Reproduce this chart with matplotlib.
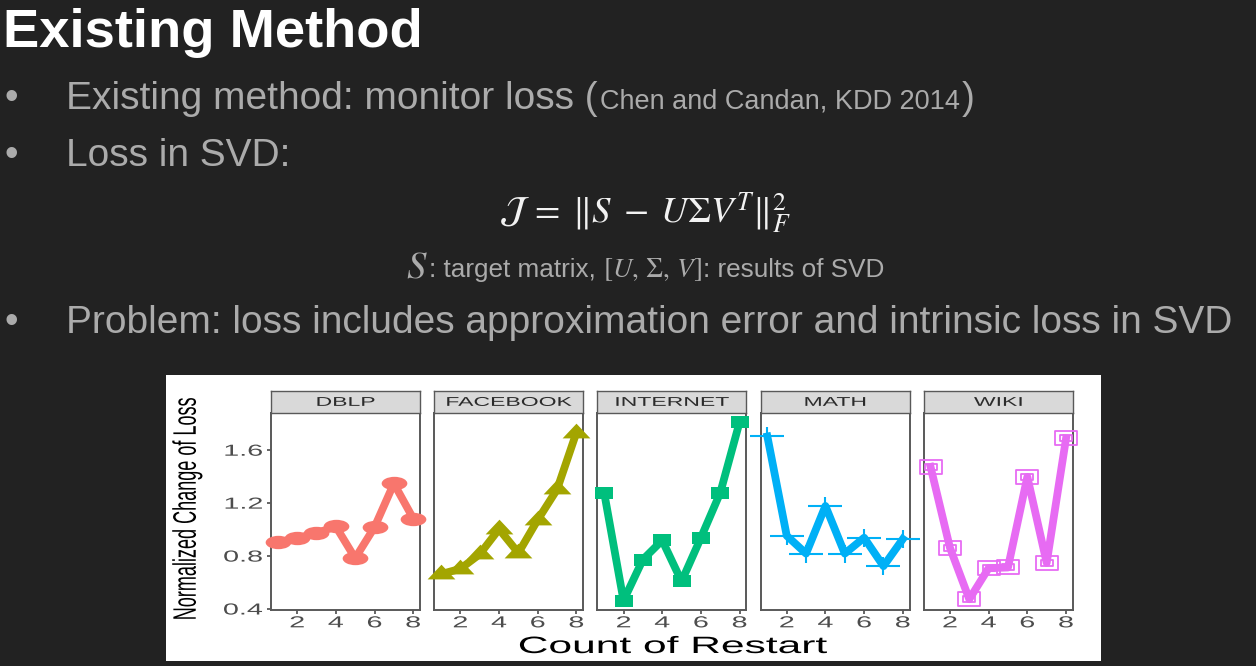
import matplotlib
matplotlib.use("Agg")
import matplotlib.pyplot as plt
import numpy as np
from matplotlib.path import Path
from matplotlib.patches import Rectangle
from matplotlib.patheffects import AbstractPathEffect
from matplotlib.transforms import Affine2D

plt.rcParams['font.family'] = ['Liberation Sans', 'DejaVu Sans']
plt.rcParams['mathtext.fontset'] = 'stix'

# data
restarts = [1, 2, 3, 4, 5, 6, 7, 8]
datasets = ["DBLP", "FACEBOOK", "INTERNET", "MATH", "WIKI"]
dblp = [0.90, 0.93, 0.97, 1.02, 0.78, 1.015, 1.345, 1.08]
facebook = [0.66, 0.70, 0.81, 1.00, 0.82, 1.07, 1.30, 1.73]
internet = [1.275, 0.46, 0.77, 0.915, 0.605, 0.935, 1.275, 1.81]
math_ = [1.70, 0.95, 0.815, 1.175, 0.815, 0.935, 0.72, 0.925]
wiki = [1.47, 0.86, 0.47, 0.705, 0.71, 1.395, 0.745, 1.685]
series = [dblp, facebook, internet, math_, wiki]
colors = ['#F8766D', '#A3A500', '#00BF7D', '#00B0F6', '#E76BF3']
xticks = [2, 4, 6, 8]
yticks = [0.4, 0.8, 1.2, 1.6]

W, H = 1256, 666
BG = '#222222'
GREY_TXT = '#ABABAB'
STRETCH = 1.8   # the chart picture is stretched sideways in the slide


class HStretch(AbstractPathEffect):
    """draw text stretched horizontally (display space)"""
    def __init__(self, sx, anchor='center'):
        super().__init__()
        self.sx = sx
        self.anchor = anchor

    def draw_path(self, renderer, gc, tpath, affine, rgbFace=None):
        ext = tpath.get_extents(affine)
        if self.anchor == 'right':
            x0 = ext.x1
        elif self.anchor == 'left':
            x0 = ext.x0
        else:
            x0 = 0.5 * (ext.x0 + ext.x1)
        t = affine + Affine2D().translate(-x0, 0).scale(self.sx, 1).translate(x0, 0)
        renderer.draw_path(gc, tpath, t, rgbFace)


def closed(verts):
    verts = list(verts) + [verts[0]]
    codes = [Path.MOVETO] + [Path.LINETO] * (len(verts) - 2) + [Path.CLOSEPOLY]
    return Path(np.array(verts, float), codes)


circ = Path.unit_circle()
m_ellipse = Path(circ.vertices * [1.0, 0.52], circ.codes)
m_tri = closed([(-1, -0.353), (1, -0.353), (0, 0.707)])
m_rect = closed([(-1, -0.65), (1, -0.65), (1, 0.65), (-1, 0.65)])
m_plus = Path(np.array([(-1, 0), (1, 0), (0, -0.55), (0, 0.55)], float),
              [Path.MOVETO, Path.LINETO, Path.MOVETO, Path.LINETO])
outer = closed([(-1, -0.62), (1, -0.62), (1, 0.62), (-1, 0.62)])
inner = closed([(-0.5, -0.28), (0.5, -0.28), (0.5, 0.28), (-0.5, 0.28)])
m_dsq = Path.make_compound_path(outer, inner)

marker_kw = [
    dict(marker=m_ellipse, ms=18.5, mew=0),
    dict(marker=m_tri, ms=20, mew=0),
    dict(marker=m_rect, ms=13.5, mew=0),
    dict(marker=m_plus, ms=24.5, mew=1.5, mfc='none'),
    dict(marker=m_dsq, ms=16, mew=1.3, mfc='none'),
]

fig = plt.figure(figsize=(W / 100, H / 100), dpi=100, facecolor=BG)

# white box holding the chart
fig.patches.append(Rectangle((166 / W, 1 - 660.7 / H), 935 / W, 285.7 / H,
                             transform=fig.transFigure, facecolor='white',
                             edgecolor='none', zorder=-1))

allv = np.concatenate(series)
yr = allv.max() - allv.min()
ylim = (allv.min() - 0.05 * yr, allv.max() + 0.05 * yr)
xr = max(restarts) - min(restarts)
xlim = (min(restarts) - 0.05 * xr, max(restarts) + 0.05 * xr)

edge = '#595959'
for i, (name, vals, c, mk) in enumerate(zip(datasets, series, colors, marker_kw)):
    left = 271 + i * 163.2
    ax = fig.add_axes([left / W, 1 - 609.5 / H, 149 / W, 196.5 / H])
    ax.set_facecolor('white')
    ax.plot(restarts, vals, color=c, lw=5.6, zorder=2)
    ax.plot(restarts, vals, ls='none', color=c, mec=c, zorder=3, clip_on=False, **mk)
    ax.set_xlim(*xlim)
    ax.set_ylim(*ylim)
    for sp in ax.spines.values():
        sp.set_color(edge)
        sp.set_linewidth(1.4)
    ax.set_xticks(xticks)
    ax.set_xticklabels([str(t) for t in xticks])
    ax.tick_params(direction='out', length=3, width=1.3, color=edge,
                   labelsize=11.5, labelcolor='#4D4D4D', pad=1.2)
    for lab in ax.get_xticklabels():
        lab.set_path_effects([HStretch(STRETCH)])
    if i == 0:
        ax.set_yticks(yticks)
        ax.set_yticklabels(['%.1f' % t for t in yticks])
        ax.tick_params(axis='y', pad=3)
        for lab in ax.get_yticklabels():
            lab.set_path_effects([HStretch(STRETCH, 'right')])
    else:
        ax.set_yticks([])

    sax = fig.add_axes([left / W, 1 - 413 / H, 149 / W, 22.5 / H])
    sax.set_facecolor('#D9D9D9')
    sax.set_xticks([])
    sax.set_yticks([])
    for sp in sax.spines.values():
        sp.set_color(edge)
        sp.set_linewidth(1.0)
    sax.text(0.5, 0.45, name, ha='center', va='center', fontsize=9.2,
             color='#2B2B2B', transform=sax.transAxes,
             path_effects=[HStretch(STRETCH)])

fig.text(673 / W, 1 - 653 / H, 'Count of Restart', ha='center', va='baseline',
         fontsize=17, color='black', path_effects=[HStretch(STRETCH)])
fig.text(187.5 / W, 1 - 509 / H, 'Normalized Change of Loss', rotation=90,
         ha='center', va='center', fontsize=13, color='black',
         path_effects=[HStretch(STRETCH)])

# slide text
fig.text(3 / W, 1 - 47 / H, 'Existing Method', fontsize=39.2, fontweight='bold',
         color='white', va='baseline', ha='left')

renderer = fig.canvas.get_renderer()
BODY = 28


def put(x, y, s, **kw):
    return fig.text(x / W, 1 - y / H, s, va='baseline', ha='left', **kw)


def width(t):
    return t.get_window_extent(renderer).width


for by in [109, 166, 333]:
    put(4, by, '\u2022', fontsize=BODY, color=GREY_TXT)

t1 = put(66, 109, 'Existing method: monitor loss (', fontsize=BODY, color=GREY_TXT)
x = 66 + width(t1) + 2
t2 = put(x, 109, 'Chen and Candan, KDD 2014', fontsize=19.5, color=GREY_TXT)
x = x + width(t2) + 2
put(x, 109, ')', fontsize=BODY, color=GREY_TXT)

put(66, 166, 'Loss in SVD:', fontsize=BODY, color=GREY_TXT)

fig.text(645 / W, 1 - 223 / H,
         r'$\mathcal{J}\;=\;\|S\;-\;U\Sigma V^{T}\|_{F}^{2}$',
         ha='center', va='baseline', fontsize=26.5, color='#F2F2F2')

# sub line, built from pieces and centred
pieces = [(r'$S$', 28, 1), (': target matrix,', 18.8, 7),
          (r'$[U,\,\Sigma,\,V]$', 19.5, 1), (': results of SVD', 18.8, 0)]
texts = []
total = 0
for s, fs, gap in pieces:
    t = put(0, 277, s, fontsize=fs, color=GREY_TXT)
    w = width(t)
    texts.append((t, w, gap))
    total += w + gap
x = 645 - total / 2
for t, w, gap in texts:
    t.set_x(x / W)
    x += w + gap

put(66, 333, 'Problem: loss includes approximation error and intrinsic loss in SVD',
    fontsize=BODY, color=GREY_TXT)

fig.savefig('out.png', dpi=100, facecolor=BG)
